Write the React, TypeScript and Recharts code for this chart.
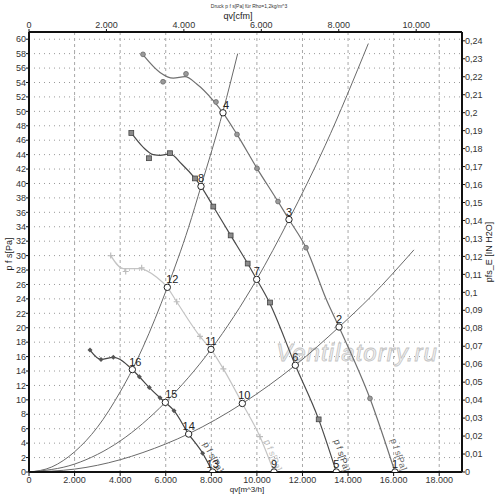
import React from 'react';
import {
  ComposedChart, Line, Scatter, XAxis, YAxis, CartesianGrid, Customized,
} from 'recharts';

// ---- axis ticks ----
const flowTicks = [0, 2000, 4000, 6000, 8000, 10000, 12000, 14000, 16000, 18000];
const cfmTicks = [0, 2000, 4000, 6000, 8000, 10000];
const paTicks = [0, 2, 4, 6, 8, 10, 12, 14, 16, 18, 20, 22, 24, 26, 28, 30, 32, 34, 36, 38, 40, 42, 44, 46, 48, 50, 52, 54, 56, 58, 60];
const inchTicks = [0, 0.01, 0.02, 0.03, 0.04, 0.05, 0.06, 0.07, 0.08, 0.09, 0.1, 0.11, 0.12, 0.13, 0.14, 0.15, 0.16, 0.17, 0.18, 0.19, 0.2, 0.21, 0.22, 0.23, 0.24];

// ---- fan curves (qv m^3/h, p Pa) ----
const fanA = [
  { x: 5016, y: 57.8 }, { x: 5748, y: 55.4 }, { x: 6332, y: 54.6 }, { x: 6845, y: 54.8 },
  { x: 7359, y: 53.8 }, { x: 8087, y: 51.5 }, { x: 8512, y: 49.8 }, { x: 9127, y: 46.8 },
  { x: 10004, y: 42.1 }, { x: 10926, y: 37.5 }, { x: 11408, y: 35.0 }, { x: 12155, y: 31.1 },
  { x: 13061, y: 23.8 }, { x: 13603, y: 20.1 }, { x: 14963, y: 10.2 }, { x: 16060, y: 0 },
];
const fanB = [
  { x: 4489, y: 47.0 }, { x: 5016, y: 45.0 }, { x: 5454, y: 44.0 }, { x: 5748, y: 43.9 },
  { x: 6187, y: 44.1 }, { x: 6700, y: 42.7 }, { x: 7284, y: 40.7 }, { x: 7547, y: 39.6 },
  { x: 8087, y: 36.8 }, { x: 8849, y: 32.8 }, { x: 9596, y: 28.9 }, { x: 9991, y: 26.7 },
  { x: 10501, y: 23.8 }, { x: 11686, y: 14.8 }, { x: 12711, y: 7.3 }, { x: 13485, y: 0 },
];
const fanC = [
  { x: 3585, y: 30.0 }, { x: 4137, y: 28.2 }, { x: 4871, y: 28.2 }, { x: 5604, y: 27.0 },
  { x: 6069, y: 25.6 }, { x: 6480, y: 23.6 }, { x: 7503, y: 18.8 }, { x: 7986, y: 17.0 },
  { x: 8528, y: 14.3 }, { x: 9361, y: 9.5 }, { x: 10136, y: 4.9 }, { x: 10750, y: 0 },
];
const fanD = [
  { x: 2677, y: 16.9 }, { x: 3159, y: 15.6 }, { x: 3700, y: 15.9 }, { x: 4534, y: 14.2 },
  { x: 4842, y: 13.2 }, { x: 5280, y: 11.7 }, { x: 5748, y: 10.3 }, { x: 5982, y: 9.65 },
  { x: 6362, y: 8.5 }, { x: 7006, y: 5.26 }, { x: 7620, y: 2.6 }, { x: 8059, y: 0 },
];

// ---- measured markers ----
const markA = [
  { x: 5002, y: 57.9 }, { x: 5880, y: 54.1 }, { x: 6889, y: 55.2 }, { x: 8205, y: 51.3 },
  { x: 9127, y: 46.8 }, { x: 10004, y: 42.1 }, { x: 10926, y: 37.5 }, { x: 12155, y: 31.1 },
  { x: 14963, y: 10.2 },
];
const markB = [
  { x: 4489, y: 47.0 }, { x: 5265, y: 43.5 }, { x: 6187, y: 44.2 }, { x: 7284, y: 40.7 },
  { x: 8087, y: 36.8 }, { x: 8849, y: 32.8 }, { x: 9596, y: 28.9 }, { x: 10575, y: 23.5 },
  { x: 12711, y: 7.3 },
];
const markC = [
  { x: 3585, y: 30.0 }, { x: 4243, y: 27.8 }, { x: 4944, y: 28.3 }, { x: 6480, y: 23.6 },
  { x: 7503, y: 18.8 }, { x: 8528, y: 14.3 }, { x: 10136, y: 4.9 },
];
const markD = [
  { x: 2677, y: 16.9 }, { x: 3159, y: 15.6 }, { x: 3700, y: 15.9 }, { x: 4842, y: 13.2 },
  { x: 5280, y: 11.7 }, { x: 5748, y: 10.3 }, { x: 6362, y: 8.5 }, { x: 7620, y: 2.6 },
];

// ---- system curves ----
const sys1 = [
  { x: 0, y: 0 }, { x: 1000, y: 0.7 }, { x: 2000, y: 2.8 }, { x: 3000, y: 6.2 }, { x: 4000, y: 11.1 },
  { x: 4534, y: 14.2 }, { x: 5000, y: 17.3 }, { x: 6069, y: 25.6 }, { x: 7000, y: 33.9 },
  { x: 7547, y: 39.6 }, { x: 8512, y: 50.0 }, { x: 9157, y: 58.0 },
];
const sys2 = [
  { x: 0, y: 0 }, { x: 2000, y: 1.1 }, { x: 4000, y: 4.3 }, { x: 5982, y: 9.65 }, { x: 7986, y: 17.0 },
  { x: 9991, y: 26.7 }, { x: 11408, y: 35.0 }, { x: 13000, y: 45.3 }, { x: 14890, y: 59.4 },
];
const sys3 = [
  { x: 0, y: 0 }, { x: 2000, y: 0.4 }, { x: 4000, y: 1.7 }, { x: 5000, y: 2.7 }, { x: 7006, y: 5.3 },
  { x: 9361, y: 9.5 }, { x: 11686, y: 14.8 }, { x: 13603, y: 20.1 }, { x: 15000, y: 24.3 },
  { x: 16893, y: 30.8 },
];

// ---- operating points ----
const opPoints = [
  { x: 16060, y: 0, n: '1' }, { x: 13603, y: 20.1, n: '2' }, { x: 11408, y: 35.0, n: '3' },
  { x: 8512, y: 49.8, n: '4' }, { x: 13485, y: 0, n: '5' }, { x: 11686, y: 14.8, n: '6' },
  { x: 9991, y: 26.7, n: '7' }, { x: 7547, y: 39.6, n: '8' }, { x: 10750, y: 0, n: '9' },
  { x: 9361, y: 9.5, n: '10' }, { x: 7986, y: 17.0, n: '11' }, { x: 6069, y: 25.6, n: '12' },
  { x: 8059, y: 0, n: '13' }, { x: 7006, y: 5.26, n: '14' }, { x: 5982, y: 9.65, n: '15' },
  { x: 4534, y: 14.2, n: '16' },
];

// curve name labels anchored near curve ends
const curveLabels = [
  { x: 16200, y: 2.4, k: 'A' }, { x: 13700, y: 2.3, k: 'B' },
  { x: 10680, y: 2.3, k: 'C' }, { x: 8060, y: 2.0, k: 'D' },
];

const FONT = '"Liberation Sans", Arial, sans-serif';
const labelDx: Record<string, number> = { '4': 3, '12': 5, '15': 6, '16': 3, '10': 2 };
const curveStyle: Record<string, { color: string; angle: number }> = {
  A: { color: '#707070', angle: 71 },
  B: { color: '#505050', angle: 72 },
  C: { color: '#bdbdbd', angle: 68 },
  D: { color: '#555555', angle: 62 },
};

const fmtFlow = (v: number) =>
  v >= 1000 ? `${Math.floor(v / 1000)}.${String(v % 1000).padStart(3, '0')}` : String(v);
const fmtInch = (v: number) => String(+v.toFixed(2)).replace('.', ',');

const tickStyle = { fontSize: 9, fill: '#333', fontFamily: FONT };

const CircleMark = (p: any) => (
  <circle cx={p.cx} cy={p.cy} r={2.4} fill="#9a9a9a" stroke="#6a6a6a" strokeWidth={0.8} />
);
const SquareMark = (p: any) => (
  <rect x={p.cx - 2.4} y={p.cy - 2.4} width={4.8} height={4.8} fill="#8a8a8a" stroke="#444" strokeWidth={0.8} />
);
const PlusMark = (p: any) => (
  <path d={`M${p.cx - 3},${p.cy}H${p.cx + 3}M${p.cx},${p.cy - 3}V${p.cy + 3}`} stroke="#bdbdbd" strokeWidth={1.2} />
);
const DiamondMark = (p: any) => (
  <path d={`M${p.cx},${p.cy - 2.5}L${p.cx + 2.5},${p.cy}L${p.cx},${p.cy + 2.5}L${p.cx - 2.5},${p.cy}Z`} fill="#555" />
);
const OpMark = (p: any) => {
  const n = p.payload?.n ?? '';
  const dx = labelDx[n] ?? 0;
  return (
    <g>
      <circle cx={p.cx} cy={p.cy} r={3.2} fill="#fff" stroke="#222" strokeWidth={1} />
      <text x={p.cx + dx} y={p.cy - 4} textAnchor="middle" fontSize={11} fill="#222" fontFamily={FONT}>{n}</text>
    </g>
  );
};
const CurveLabel = (p: any) => {
  const st = curveStyle[p.payload?.k] ?? curveStyle.A;
  return (
    <text x={p.cx} y={p.cy} textAnchor="middle" dominantBaseline="middle" fontSize={9}
      fill={st.color} fontFamily={FONT} transform={`rotate(${st.angle} ${p.cx} ${p.cy})`}>
      p f s[Pa]
    </text>
  );
};
const Nothing = () => <g />;

const Watermark = () => (
  <text x={357} y={361} textAnchor="middle" fontSize={24} fontStyle="italic" fontFamily={FONT}
    fill="#f2f2f2" stroke="#c4c4c4" strokeWidth={0.8} letterSpacing={1}>Ventilatorry.ru</text>
);
const Titles = () => (
  <g fontFamily={FONT}>
    <text x={249} y={8} textAnchor="middle" fontSize={5} fill="#333">Druck p f s[Pa] für Rho=1,2kg/m^3</text>
    <text x={238} y={19} textAnchor="middle" fontSize={9} fill="#222">qv[cfm]</text>
    <text x={247} y={492} textAnchor="middle" fontSize={8} fill="#222">qv[m^3/h]</text>
    <text x={10} y={254} textAnchor="middle" dominantBaseline="middle" fontSize={9} fill="#222" transform="rotate(-90 10 254)">p f s[Pa]</text>
    <text x={490} y={252} textAnchor="middle" dominantBaseline="middle" fontSize={9} fill="#222" transform="rotate(-90 490 252)">pfs_E [IN H2O]</text>
  </g>
);

export default function App() {
  const lineProps = { dataKey: 'y', dot: false, activeDot: false, isAnimationActive: false, type: 'monotone' as const };
  return (
    <div style={{ position: 'absolute', left: 0, top: 0, width: 500, height: 504, background: '#fff' }}>
      <ComposedChart width={500} height={504} margin={{ top: 0, right: 0, bottom: 0, left: 0 }}>
        <CartesianGrid vertical={false} stroke="#9a9a9a" strokeDasharray="1 4" />
        <CartesianGrid horizontal={false} stroke="#a8a8a8" strokeDasharray="3 3" />
        <XAxis xAxisId={0} dataKey="x" type="number" domain={[0, 19000]} ticks={flowTicks} allowDataOverflow
          tickFormatter={fmtFlow} tick={tickStyle} height={32} tickSize={4} tickMargin={1}
          axisLine={{ stroke: '#111', strokeWidth: 2 }} tickLine={{ stroke: '#111' }} interval={0} />
        <XAxis xAxisId="top" orientation="top" dataKey="x" type="number" domain={[0, 11183]} ticks={cfmTicks} allowDataOverflow
          tickFormatter={fmtFlow} tick={tickStyle} height={32} tickSize={3} tickMargin={1}
          axisLine={{ stroke: '#111', strokeWidth: 2 }} tickLine={{ stroke: '#111' }} interval={0} />
        <YAxis yAxisId={0} dataKey="y" type="number" domain={[0, 61]} ticks={paTicks} allowDataOverflow
          tick={tickStyle} width={29} tickSize={3} tickMargin={0}
          axisLine={{ stroke: '#111', strokeWidth: 2 }} tickLine={{ stroke: '#111' }} interval={0} />
        <YAxis yAxisId="right" orientation="right" dataKey="y" type="number" domain={[0, 0.2449]} ticks={inchTicks} allowDataOverflow
          tickFormatter={fmtInch} tick={tickStyle} width={38} tickSize={3} tickMargin={0}
          axisLine={{ stroke: '#111', strokeWidth: 2 }} tickLine={{ stroke: '#111' }} interval={0} />

        <Customized component={Watermark} />

        <Line data={sys1} {...lineProps} stroke="#6a6a6a" strokeWidth={1} />
        <Line data={sys2} {...lineProps} stroke="#6a6a6a" strokeWidth={1} />
        <Line data={sys3} {...lineProps} stroke="#6a6a6a" strokeWidth={1} />

        <Line data={fanC} {...lineProps} stroke="#c4c4c4" strokeWidth={1.2} />
        <Line data={fanA} {...lineProps} stroke="#707070" strokeWidth={1.2} />
        <Line data={fanB} {...lineProps} stroke="#4a4a4a" strokeWidth={1.2} />
        <Line data={fanD} {...lineProps} stroke="#444" strokeWidth={1.2} />

        <Scatter data={markA} dataKey="y" shape={CircleMark} isAnimationActive={false} />
        <Scatter data={markB} dataKey="y" shape={SquareMark} isAnimationActive={false} />
        <Scatter data={markC} dataKey="y" shape={PlusMark} isAnimationActive={false} />
        <Scatter data={markD} dataKey="y" shape={DiamondMark} isAnimationActive={false} />
        <Scatter data={curveLabels} dataKey="y" shape={CurveLabel} isAnimationActive={false} />
        <Scatter data={opPoints} dataKey="y" shape={OpMark} isAnimationActive={false} />
        <Scatter data={[{ x: 0, y: 0 }]} xAxisId="top" yAxisId="right" dataKey="y" shape={Nothing} isAnimationActive={false} />

        <Customized component={Titles} />
      </ComposedChart>
    </div>
  );
}
